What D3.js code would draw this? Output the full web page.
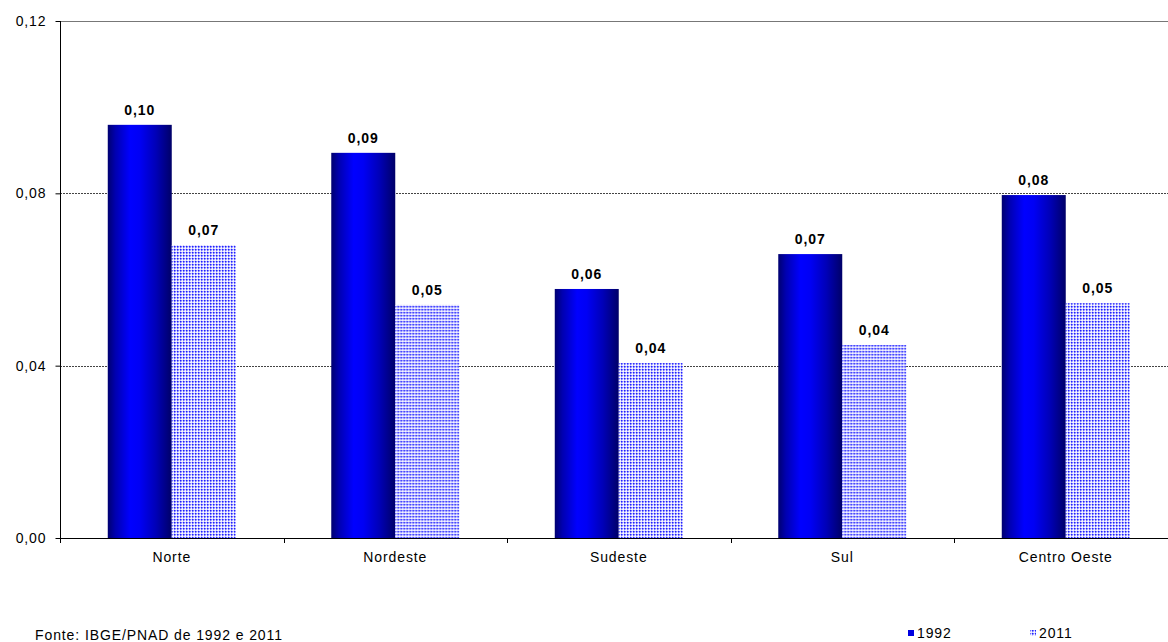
<!DOCTYPE html>
<html><head><meta charset="utf-8">
<script src="https://cdn.jsdelivr.net/npm/d3@7"></script>
<style>body{margin:0;background:#fff;}svg{display:block;font-family:"Liberation Sans",Arial,sans-serif;}</style>
</head><body>
<svg id="c" width="1168" height="642"></svg>
<script>
const categories = ["Norte","Nordeste","Sudeste","Sul","Centro Oeste"];
const series = ["1992","2011"];
const values1992 = [0.0959,0.0894,0.0578,0.0659,0.0796];
const values2011 = [0.0680,0.0541,0.0406,0.0448,0.0545];
const yTicks = [0,0.04,0.08,0.12];
const source = "Fonte: IBGE/PNAD de 1992 e 2011";

const FS = "14px", LS = "0.9px";
const svg = d3.select("#c");
const m = {l:60, t:21, r:1177.5, b:538};
const x0 = d3.scaleBand().domain(categories).range([m.l, m.r]).paddingInner(0).paddingOuter(0);
const x1 = d3.scaleBand().domain(series).range([x0.bandwidth()*0.2137, x0.bandwidth()*0.7863]);
const y = d3.scaleLinear().domain([0,0.12]).range([m.b, m.t]);
const fmt = v => d3.format(".2f")(v).replace(".", ",");

const defs = svg.append("defs");
const g = defs.append("linearGradient").attr("id","g92").attr("x1","0").attr("x2","1").attr("y1","0").attr("y2","0");
[[0,"#000070"],[0.12,"#0000b0"],[0.35,"#0000ff"],[0.5,"#0000f5"],[0.75,"#0000b8"],[1,"#000068"]].forEach(s=>g.append("stop").attr("offset",s[0]).attr("stop-color",s[1]));
const p = defs.append("pattern").attr("id","p11").attr("width",3).attr("height",3).attr("patternUnits","userSpaceOnUse");
p.append("rect").attr("width",3).attr("height",3).attr("fill","#f4f4ff");
const px = [[0,0,"#1e1eff"],[1,0,"#7070ff"],[0,1,"#7070ff"],[1,1,"#b4b4ff"],[2,0,"#c8c8ff"],[0,2,"#c8c8ff"]];
px.forEach(d=>p.append("rect").attr("x",d[0]).attr("y",d[1]).attr("width",1).attr("height",1).attr("fill",d[2]));

// gridlines
svg.append("g").selectAll("line").data([0.04,0.08]).join("line")
  .attr("x1",m.l).attr("x2",1168).attr("y1",d=>Math.round(y(d))+0.5).attr("y2",d=>Math.round(y(d))+0.5)
  .attr("stroke","#444").attr("stroke-dasharray","2,1");
svg.append("line").attr("x1",m.l).attr("x2",1168).attr("y1",Math.round(y(0.12))+0.5).attr("y2",Math.round(y(0.12))+0.5).attr("stroke","#777");

const data = categories.map((c,i)=>({c, v:[{s:"1992",v:values1992[i]},{s:"2011",v:values2011[i]}]}));
const grp = svg.append("g").selectAll("g").data(data).join("g").attr("transform",d=>`translate(${x0(d.c)},0)`);
grp.selectAll("rect").data(d=>d.v).join("rect")
  .attr("x",d=>x1(d.s)).attr("width",x1.bandwidth())
  .attr("y",d=>y(d.v)).attr("height",d=>y(0)-y(d.v))
  .attr("fill",d=>d.s==="1992"?"url(#g92)":"url(#p11)");
grp.selectAll("text").data(d=>d.v).join("text")
  .attr("x",d=>x1(d.s)+x1.bandwidth()/2).attr("y",d=>y(d.v)-10)
  .attr("text-anchor","middle").attr("font-size",FS).attr("letter-spacing",LS).attr("font-weight","bold").attr("fill","#000")
  .text(d=>fmt(d.v));

// axes
const ya = svg.append("g").attr("transform",`translate(${m.l+0.5},0)`)
  .call(d3.axisLeft(y).tickValues(yTicks).tickFormat(fmt).tickSize(5).tickSizeOuter(0));
ya.select(".domain").attr("stroke","#000");
ya.selectAll(".tick line").attr("stroke","#000");
ya.selectAll("text").attr("font-size",FS).attr("letter-spacing",LS).attr("fill","#000").attr("font-family","Liberation Sans, Arial, sans-serif").attr("x",-14);
ya.select(".domain").attr("d",`M0,${m.t}V${m.b}`);

const xa = svg.append("g").attr("transform",`translate(0,${m.b+0.5})`)
  .call(d3.axisBottom(x0).tickSize(0).tickSizeOuter(0));
xa.select(".domain").attr("stroke","#000").attr("d",`M${m.l},0H1168`);
xa.selectAll("text").attr("font-size",FS).attr("letter-spacing",LS).attr("fill","#000").attr("font-family","Liberation Sans, Arial, sans-serif").attr("y",0).attr("dy","1.65em");
svg.append("g").selectAll("line").data(categories.slice(1)).join("line")
  .attr("x1",d=>Math.round(x0(d))+0.5).attr("x2",d=>Math.round(x0(d))+0.5)
  .attr("y1",m.b).attr("y2",m.b+5).attr("stroke","#000");
svg.append("line").attr("x1",m.l+0.5).attr("x2",m.l+0.5).attr("y1",m.b).attr("y2",m.b+5).attr("stroke","#000");

// source
svg.append("text").attr("x",35).attr("y",640).attr("font-size",FS).attr("letter-spacing",LS).attr("fill","#000").text(source);

// legend
const lg = svg.append("g");
const lx = [908,1030];
series.forEach((s,i)=>{
  lg.append("rect").attr("x",lx[i]).attr("y",630).attr("width",6).attr("height",6).attr("fill",i===0?"#0000e0":"url(#p11)");
  lg.append("text").attr("x",lx[i]+9).attr("y",638).attr("font-size",FS).attr("letter-spacing",LS).attr("fill","#000").text(s);
});
</script>
</body></html>
